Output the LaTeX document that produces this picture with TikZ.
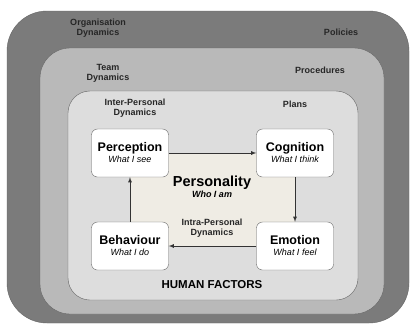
\documentclass[tikz,border=0pt]{standalone}
\usepackage{fontspec}
\setmainfont{Liberation Sans}
\usetikzlibrary{arrows}
\usetikzlibrary{positioning}
\definecolor{ringdark}{HTML}{7B7B7B}
\definecolor{ringmid}{HTML}{B9B9B9}
\definecolor{ringlight}{HTML}{DDDDDD}
\definecolor{coretan}{HTML}{EFECE4}
\definecolor{edgegray}{HTML}{666666}

\begin{document}
\begin{tikzpicture}[x=1pt,y=-1pt,
  ringlbl/.style={align=center,font=\fontsize{9}{10}\selectfont\bfseries,text=black!85},
  factor/.style={draw=edgegray,fill=white,rounded corners=6pt,minimum width=77pt,minimum height=48pt,align=center,inner sep=1pt},
  flow/.style={draw=black!80,thick,-latex}]
  \useasboundingbox (0,0) rectangle (414,327);
  \fill[white] (0,0) rectangle (414,327);
  \draw[edgegray,fill=ringdark,rounded corners=40pt] (7,11) rectangle (409,323);
  \draw[edgegray,fill=ringmid,rounded corners=30pt] (40,48) rectangle (384,314);
  \draw[edgegray,fill=ringlight,rounded corners=22pt] (68,91) rectangle (358,300);
  \fill[coretan] (130,153) rectangle (295,246);

  \node[ringlbl] (org) at (98,28) {Organisation\\Dynamics};
  \node[ringlbl] (pol) at (341,32) {Policies};
  \node[ringlbl] (team) at (108,73) {Team\\Dynamics};
  \node[ringlbl] (proc) at (320,70) {Procedures};
  \node[ringlbl] (inter) at (135,108) {Inter-Personal\\Dynamics};
  \node[ringlbl] (plans) at (295,104) {Plans};

  \node[factor] (perc) at (130,153) {{\fontsize{12.5}{13}\selectfont\bfseries Perception}\\[-1pt]{\fontsize{9}{10}\selectfont\itshape What I see}};
  \node[factor] (cog) at (295,153) {{\fontsize{12.5}{13}\selectfont\bfseries Cognition}\\[-1pt]{\fontsize{9}{10}\selectfont\itshape What I think}};
  \node[factor] (emo) at (295,246) {{\fontsize{12.5}{13}\selectfont\bfseries Emotion}\\[-1pt]{\fontsize{9}{10}\selectfont\itshape What I feel}};
  \node[factor] (beh) at (130,246) {{\fontsize{12.5}{13}\selectfont\bfseries Behaviour}\\[-1pt]{\fontsize{9}{10}\selectfont\itshape What I do}};

  \node[align=center] (pers) at (212,187) {{\fontsize{14.5}{15}\selectfont\bfseries Personality}\\[-1pt]{\fontsize{9}{10}\selectfont\bfseries\itshape Who I am}};
  \node[ringlbl] (intra) at (212,228) {Intra-Personal\\Dynamics};
  \node[font=\fontsize{11.5}{12}\selectfont\bfseries] (hf) at (212,285) {HUMAN FACTORS};

  \draw[flow](perc)--(cog);
  \draw[flow](cog)--(emo);
  \draw[flow](emo)--(beh);
  \draw[flow](beh)--(perc);
\end{tikzpicture}
\end{document}
